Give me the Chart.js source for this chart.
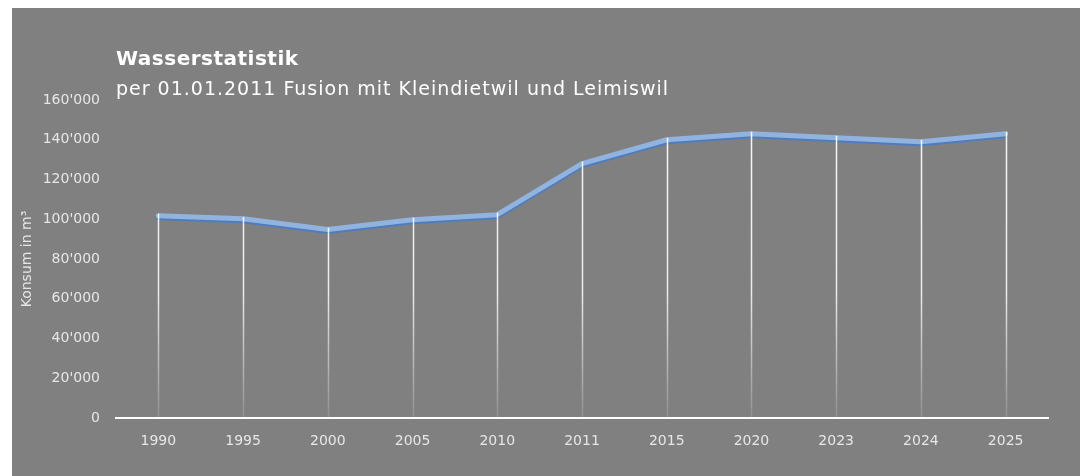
<!DOCTYPE html>
<html>
<head>
<meta charset="utf-8">
<script src="https://cdn.jsdelivr.net/npm/chart.js@4"></script>
<style>
  html, body { margin: 0; padding: 0; background: #fff; }
  #panel { position: absolute; left: 12px; top: 8px; width: 1068px; height: 468px; background: #808080; }
</style>
</head>
<body>
<div id="panel"><canvas id="chart" width="1068" height="468"></canvas></div>
<script>
// data
const years = ['1990','1995','2000','2005','2010','2011','2015','2020','2023','2024','2025'];
const konsum = [101800, 100200, 94800, 99800, 102300, 128000, 140000, 143000, 141000, 139000, 143000];
const yTicks = [0, 20000, 40000, 60000, 80000, 100000, 120000, 140000, 160000];

const titleText = 'Wasserstatistik';
const subText = 'per 01.01.2011 Fusion mit Kleindietwil und Leimiswil';
const FONT = '"DejaVu Sans", sans-serif';

function swiss(v) {
  return String(v).replace(/\B(?=(\d{3})+(?!\d))/g, "'");
}

// title + subtitle drawn over the plot like in the original
const titles = {
  id: 'titles',
  afterDraw(c) {
    const g = c.ctx;
    g.save();
    g.fillStyle = '#ffffff';
    g.textBaseline = 'alphabetic';
    g.font = 'bold 20px ' + FONT;
    g.letterSpacing = '0.5px';
    g.fillText(titleText, 104, 57);
    g.font = '19px ' + FONT;
    g.letterSpacing = '1px';
    g.fillText(subText, 104, 87);
    g.restore();
  }
};

// line shadow (dark blue under light blue)
const shadow = {
  id: 'shadow',
  beforeDatasetDraw(c) {
    c.ctx.save();
    c.ctx.shadowColor = '#4d7dbf';
    c.ctx.shadowOffsetY = 2;
    c.ctx.shadowBlur = 0;
  },
  afterDatasetDraw(c) {
    c.ctx.restore();
  }
};

// white drop lines from every point to the axis
const dropLines = {
  id: 'dropLines',
  afterDatasetsDraw(c) {
    const g = c.ctx;
    const area = c.chartArea;
    const base = c.scales.y.getPixelForValue(0);
    const grad = g.createLinearGradient(0, area.top, 0, base);
    grad.addColorStop(0, 'rgba(255,255,255,0.95)');
    grad.addColorStop(0.6, 'rgba(255,255,255,0.85)');
    grad.addColorStop(1, 'rgba(255,255,255,0.12)');
    g.save();
    g.strokeStyle = grad;
    g.lineWidth = 1.5;
    c.getDatasetMeta(0).data.forEach(p => {
      g.beginPath();
      g.moveTo(Math.round(p.x) + 0.5, p.y - 2);
      g.lineTo(Math.round(p.x) + 0.5, base);
      g.stroke();
    });
    g.restore();
  }
};

new Chart(document.getElementById('chart'), {
  type: 'line',
  data: {
    labels: years,
    datasets: [{
      data: konsum,
      borderColor: '#91b3df',
      borderWidth: 5,
      pointRadius: 0,
      tension: 0,
      borderJoinStyle: 'round',
      borderCapStyle: 'round'
    }]
  },
  options: {
    responsive: false,
    animation: false,
    layout: { padding: { left: 0, top: 92, right: 32, bottom: 0 } },
    plugins: { legend: { display: false }, tooltip: { enabled: false } },
    scales: {
      x: {
        offset: true,
        grid: { display: false, drawTicks: false },
        border: { display: true, color: '#ffffff', width: 2 },
        ticks: { color: '#e6e6e6', font: { family: FONT, size: 14 }, padding: 15, maxRotation: 0 },
        afterFit(s) { s.height = 58; }
      },
      y: {
        min: 0,
        max: 160000,
        afterBuildTicks(s) { s.ticks = yTicks.map(v => ({ value: v })); },
        grid: { display: false, drawTicks: false },
        border: { display: false },
        ticks: { color: '#e6e6e6', font: { family: FONT, size: 14 }, padding: 16, callback: v => swiss(v) },
        title: { display: true, text: 'Konsum in m³', color: '#e6e6e6', font: { family: FONT, size: 14 }, padding: { top: 7, bottom: 0 } },
        afterFit(s) { s.width = 104; }
      }
    }
  },
  plugins: [shadow, dropLines, titles]
});
</script>
</body>
</html>
